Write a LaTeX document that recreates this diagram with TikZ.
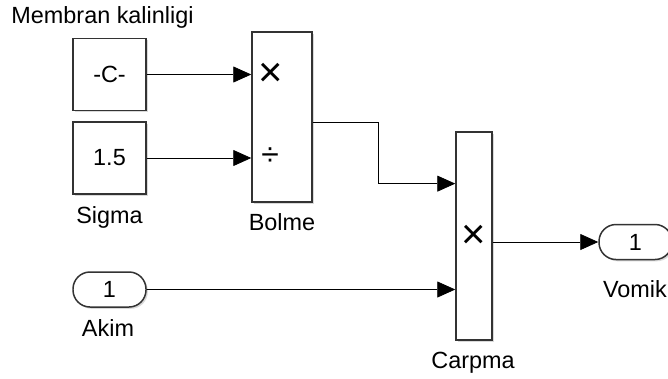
\documentclass[tikz,border=0pt]{standalone}
\usepackage{fontspec}
\setmainfont{Liberation Sans}
\usetikzlibrary{arrows.meta,positioning,calc,shadows}

\begin{document}
\begin{tikzpicture}[
    x=1bp,
    y=-1bp,
    >={Triangle[length=18bp, width=16bp]},
    txt/.style={font=\fontsize{23.5}{28}\selectfont, inner sep=0pt},
    lbl/.style={txt, anchor=base},
    sym/.style={font=\fontsize{42}{42}\selectfont, inner sep=0pt},
    divsym/.style={font=\fontsize{32}{32}\selectfont, inner sep=0pt},
    block/.style={draw=black!80, line width=1.5pt, fill=white, inner sep=0pt,
                  drop shadow={shadow xshift=1.8bp, shadow yshift=-1.8bp,
                               opacity=0.25, fill=black!60}},
    constbox/.style={block, txt, minimum width=73bp, minimum height=72bp},
    port/.style={block, txt, rounded corners=17bp,
                 minimum width=73bp, minimum height=35bp},
    wire/.style={->, line width=0.8pt, black},
]
\clip (0,0) rectangle (668,378);
% constants and inport
\node[constbox] (constC) at (109.5,74.5) {-C-};
\node[constbox] (sigma) at (109.5,158) {1.5};
\node[port] (akim) at (109.5,289.5) {1};
% product blocks
\node[block, minimum width=60bp, minimum height=170bp] (bolme) at (282,117) {};
\node[block, minimum width=36bp, minimum height=208bp] (carpma) at (474,236) {};
% outport
\node[port] (vomik) at (635.5,242) {1};
% block names
\node[lbl] (membranLbl) at (102.5,23) {Membran kalinligi};
\node[lbl] (sigmaLbl) at (109.5,223) {Sigma};
\node[lbl] (akimLbl) at (108,336) {Akim};
\node[lbl] (bolmeLbl) at (282,230) {Bolme};
\node[lbl] (carpmaLbl) at (473,368) {Carpma};
\node[lbl] (vomikLbl) at (635,297) {Vomik};
% port signs
\node[sym] (bolmeMul) at (270.5,75) {×};
\node[divsym] (bolmeDiv) at (270,157) {÷};
\node[sym] (carpmaMul) at (473.5,237) {×};
% ports
\coordinate (bolmeIn1) at (bolme.west |- constC.east);
\coordinate (bolmeIn2) at (bolme.west |- sigma.east);
\coordinate (bolmeOut) at ($(bolme.east)+(0,5.5)$);
\coordinate (carpmaIn1) at ($(carpma.north west)!0.25!(carpma.south west)$);
\coordinate (carpmaOut) at ($(carpma.east)+(0,6)$);
\coordinate (bend) at (378,0);
% signal lines
\draw[wire] (constC.east) -- (bolmeIn1);
\draw[wire] (sigma.east) -- (bolmeIn2);
\draw[wire] (bolmeOut) -- (bolmeOut -| bend) |- (carpmaIn1);
\draw[wire] (akim.east) -- (akim.east -| carpma.west);
\draw[wire] (carpmaOut) -- (carpmaOut -| vomik.west);
\end{tikzpicture}
\end{document}
